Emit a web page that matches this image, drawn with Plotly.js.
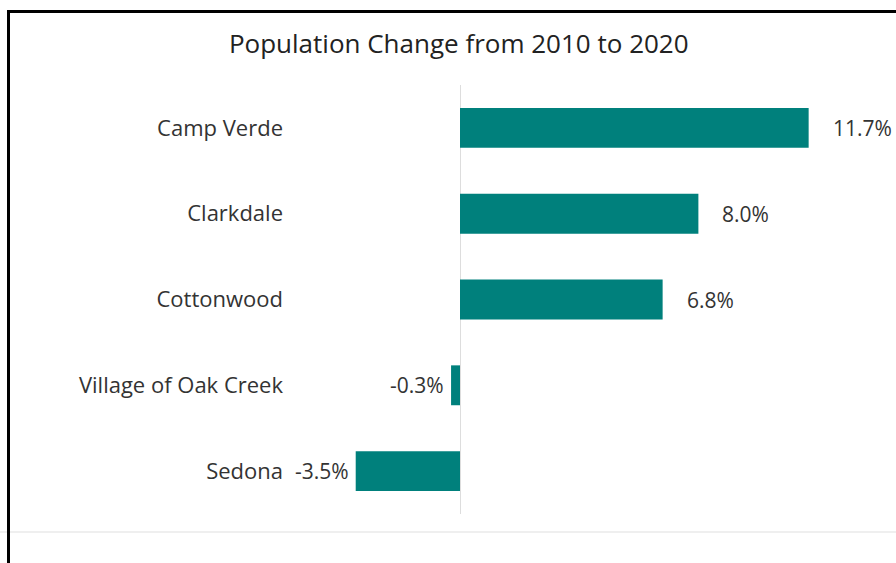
<!DOCTYPE html>
<html>
<head>
<meta charset="utf-8">
<script src="https://cdn.plot.ly/plotly-3.0.1.min.js"></script>
<style>
html, body { margin: 0; padding: 0; background: #ffffff; }
#wrap { position: relative; width: 896px; height: 563px; overflow: hidden; }
#chart { width: 896px; height: 563px; }
#frame { position: absolute; left: 7px; top: 10px; width: 900px; height: 600px;
         border-top: 3px solid #000; border-left: 3px solid #000; pointer-events: none; }
</style>
</head>
<body>
<div id="wrap">
  <div id="chart"></div>
  <div id="frame"></div>
</div>
<script>
// Data
const places = ["Camp Verde", "Clarkdale", "Cottonwood", "Village of Oak Creek", "Sedona"];
const changePct = [11.7, 8.0, 6.8, -0.3, -3.5];
const valueLabels = ["11.7%", "8.0%", "6.8%", "-0.3%", "-3.5%"];

const barColor = "#00807C";
const textColor = "#333333";
const fontFam = "'Open Sans', 'Noto Sans', sans-serif";

const trace = {
  type: "bar",
  orientation: "h",
  x: changePct,
  y: places,
  marker: { color: barColor },
  width: 0.465,
  hoverinfo: "skip"
};

const annotations = changePct.map((v, i) => ({
  x: v,
  y: places[i],
  xref: "x",
  yref: "y",
  text: valueLabels[i],
  showarrow: false,
  xanchor: v >= 0 ? "left" : "right",
  xshift: v >= 0 ? 22 : -5,
  font: { family: fontFam, size: 21, color: textColor }
}));

const layout = {
  width: 896,
  height: 563,
  margin: { l: 290, r: 6, t: 85, b: 49, pad: 0 },
  paper_bgcolor: "#ffffff",
  plot_bgcolor: "#ffffff",
  showlegend: false,
  title: {
    text: "Population Change from 2010 to 2020",
    font: { family: fontFam, size: 26, color: "#222222" },
    xref: "container",
    yref: "container",
    x: 0.512,
    xanchor: "center",
    y: 1 - 44 / 563,
    yanchor: "middle"
  },
  xaxis: {
    range: [-5.705, 14.43],
    showgrid: false,
    showticklabels: false,
    ticks: "",
    zeroline: true,
    zerolinecolor: "#dddddd",
    zerolinewidth: 1,
    showline: false,
    fixedrange: true
  },
  yaxis: {
    autorange: "reversed",
    showgrid: false,
    zeroline: false,
    showline: false,
    ticks: "",
    ticklabelstandoff: 6,
    tickfont: { family: fontFam, size: 22, color: textColor },
    fixedrange: true
  },
  annotations: annotations,
  shapes: [
    {
      type: "line",
      xref: "paper", yref: "paper",
      x0: -290 / 600, x1: 1.02,
      y0: -(532 - 514) / 429, y1: -(532 - 514) / 429,
      line: { color: "#efefef", width: 2 }
    }
  ]
};

Plotly.newPlot("chart", [trace], layout, { displayModeBar: false, staticPlot: true });
</script>
</body>
</html>
